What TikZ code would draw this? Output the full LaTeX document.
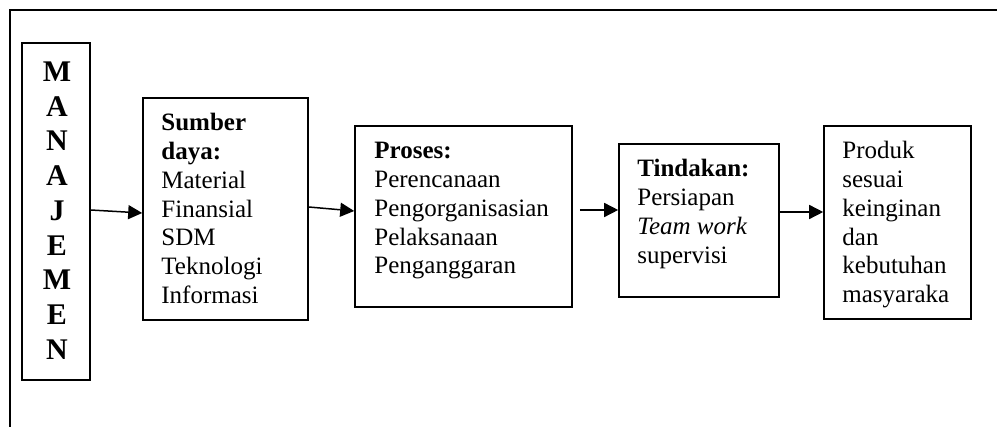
\documentclass[tikz,border=0pt]{standalone}
\usepackage{fontspec}
\setmainfont{Liberation Serif}
\usetikzlibrary{arrows.meta}

\tikzset{
  box/.style={draw, line width=1.6pt, inner sep=0pt},
  boxtext/.style={anchor=north west, inner sep=0pt, align=left,
    font=\fontsize{25}{28.75}\selectfont},
  bigtext/.style={anchor=north, inner sep=0pt, align=center,
    font=\fontsize{30}{34.75}\selectfont\bfseries},
  flow/.style={line width=1.5pt, -{Triangle[length=14pt,width=14pt]}},
  frame/.style={line width=1.4pt}
}

\begin{document}
\begin{tikzpicture}[x=1pt,y=-1pt]
  \useasboundingbox (0,0) rectangle (997,427);

  % open frame around the scheme
  \draw[frame] (10,427) -- (10,10) -- (997,10);

  % boxes
  \node[box, minimum width=68pt, minimum height=337pt] (mj) at (56,211.5) {};
  \node[box, minimum width=165pt, minimum height=222pt] (sd) at (225.5,209) {};
  \node[box, minimum width=217pt, minimum height=181pt] (pr) at (463.5,216.5) {};
  \node[box, minimum width=160pt, minimum height=153pt] (td) at (699,220.5) {};
  \node[box, minimum width=147pt, minimum height=193pt] (pd) at (897.5,222.5) {};

  % texts
  \node[bigtext] (mjtxt) at ([shift={(1pt,-14.7pt)}]mj.north)
    {\strut M\\A\\N\\A\\J\\E\\M\\E\\N};
  \node[boxtext] (sdtxt) at ([shift={(19pt,-13.4pt)}]sd.north west)
    {\strut\textbf{Sumber}\\\textbf{daya:}\\Material\\Finansial\\SDM\\Teknologi\\Informasi};
  \node[boxtext] (prtxt) at ([shift={(20pt,-13.4pt)}]pr.north west)
    {\strut\textbf{Proses:}\\Perencanaan\\Pengorganisasian\\Pelaksanaan\\Penganggaran};
  \node[boxtext] (tdtxt) at ([shift={(19pt,-13.4pt)}]td.north west)
    {\strut\textbf{Tindakan:}\\Persiapan\\\textit{Team work}\\supervisi};
  \node[boxtext] (pdtxt) at ([shift={(19pt,-13.4pt)}]pd.north west)
    {\strut Produk\\sesuai\\keinginan\\dan\\kebutuhan\\masyaraka};

  % connectors
  \draw[flow] ([yshift=1.5pt]mj.east) -- ([yshift=-4pt]sd.west);
  \draw[flow] ([yshift=2pt]sd.east) -- ([yshift=5.5pt]pr.west);
  \draw[flow] ([shift={(7pt,6.5pt)}]pr.east) -- ([yshift=10.5pt]td.west);
  \draw[flow] ([yshift=8.5pt]td.east) -- ([yshift=10.5pt]pd.west);
\end{tikzpicture}
\end{document}
